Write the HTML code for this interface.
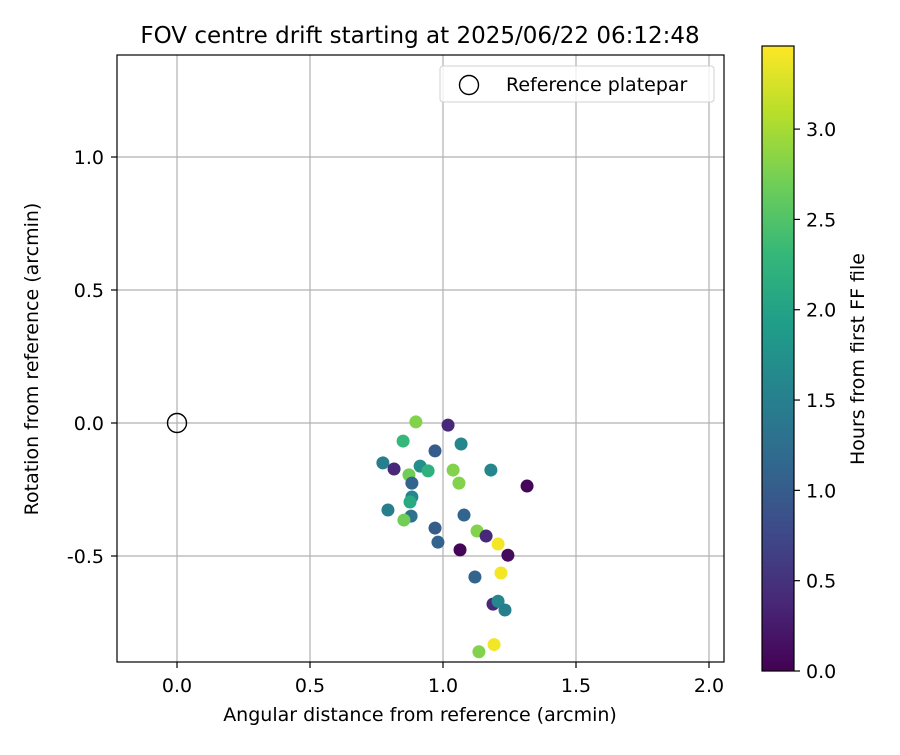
<!DOCTYPE html>
<html><head><meta charset="utf-8"><style>
body{margin:0;background:#fff;}
svg text{font-family:"DejaVu Sans","Liberation Sans",sans-serif;fill:#000;}
</style></head><body>
<svg id="chart" width="900" height="750" xmlns="http://www.w3.org/2000/svg">
<defs><linearGradient id="vir" x1="0" y1="1" x2="0" y2="0"></linearGradient></defs>
<g id="grid"></g><g id="pts"></g><g id="axes"></g>
</svg>
<script>
const xs=[0.898,1.019,0.850,1.068,0.970,0.774,0.816,0.914,0.944,1.038,1.180,0.872,0.883,1.060,1.316,0.883,0.876,0.793,0.880,0.853,1.079,0.970,0.981,1.128,1.162,1.207,1.064,1.244,1.120,1.218,1.188,1.207,1.233,1.192,1.135];
const ys=[0.004,-0.008,-0.068,-0.079,-0.105,-0.150,-0.173,-0.162,-0.180,-0.177,-0.177,-0.195,-0.226,-0.226,-0.237,-0.278,-0.297,-0.327,-0.350,-0.365,-0.346,-0.395,-0.448,-0.406,-0.425,-0.455,-0.477,-0.497,-0.579,-0.564,-0.681,-0.670,-0.703,-0.833,-0.860];
const hours=[2.8,0.4,2.3,1.6,1.0,1.5,0.4,1.7,2.2,2.8,1.6,2.7,1.1,2.8,0.05,1.6,2.1,1.5,1.3,2.7,1.1,1.0,1.1,2.8,0.4,3.4,0.05,0.1,1.1,3.4,0.4,1.6,1.5,3.4,2.8];
const xTicks=[0.0,0.5,1.0,1.5,2.0];
const yTicks=[-0.5,0.0,0.5,1.0];
const cTicks=[0.0,0.5,1.0,1.5,2.0,2.5,3.0];
const hMax=3.46;
const NS='http://www.w3.org/2000/svg';
const L=117,R=724,T=55,B=662;
const X=v=>177+v*266, Y=v=>423-v*266;
const CB={x:762,w:32,top:46,bot:671};
const C=v=>CB.bot-(v/hMax)*(CB.bot-CB.top);
const vstops=[[68,1,84],[72,40,120],[62,74,137],[49,104,142],[38,130,142],[31,158,137],[53,183,121],[110,206,88],[181,222,43],[253,231,37]];
function vir(t){t=Math.max(0,Math.min(1,t));const p=t*(vstops.length-1),i=Math.min(Math.floor(p),vstops.length-2),f=p-i;
const c=vstops[i].map((a,k)=>Math.round(a+(vstops[i+1][k]-a)*f));return `rgb(${c})`;}
function el(tag,attrs,parent,text){const e=document.createElementNS(NS,tag);for(const k in attrs)e.setAttribute(k,attrs[k]);if(text!==undefined)e.textContent=text;parent.appendChild(e);return e;}
const grid=document.getElementById('grid'),pts=document.getElementById('pts'),axes=document.getElementById('axes');
const grad=document.getElementById('vir');
vstops.forEach((s,i)=>{el('stop',{offset:i/(vstops.length-1),'stop-color':`rgb(${s})`},grad);});
xTicks.forEach(v=>{
 const g=el('line',{x1:X(v),x2:X(v),y1:T,y2:B,stroke:'#b0b0b0','stroke-width':1.2},grid);
 
 
 el('line',{x1:X(v),x2:X(v),y1:B,y2:B+6,stroke:'#000','stroke-width':1.2},axes);
 const t=el('text',{x:X(v),y:B+30,'text-anchor':'middle','font-size':19},axes,v.toFixed(1));
 
 
});
yTicks.forEach(v=>{
 const g=el('line',{x1:L,x2:R,y1:Y(v),y2:Y(v),stroke:'#b0b0b0','stroke-width':1.2},grid);
 
 
 el('line',{x1:L-6,x2:L,y1:Y(v),y2:Y(v),stroke:'#000','stroke-width':1.2},axes);
 const t=el('text',{x:L-13,y:Y(v)+7,'text-anchor':'end','font-size':19},axes,v.toFixed(1));
 
 
});
xs.forEach((x,i)=>{
 const c=el('circle',{cx:X(x),cy:Y(ys[i]),r:6.5,fill:vir(hours[i]/hMax)},pts);
 
 
});
const ref=el('circle',{cx:X(0),cy:Y(0),r:9.5,fill:'none',stroke:'#000','stroke-width':1.4},pts);


const frame=el('rect',{x:L,y:T,width:R-L,height:B-T,fill:'none',stroke:'#000','stroke-width':1.2},axes);


const lg=el('g',{},axes);


el('rect',{x:440,y:66,width:274,height:36,rx:3,fill:'#fff','fill-opacity':0.8,stroke:'#d0d0d0'},lg);
el('circle',{cx:469,cy:85,r:9.5,fill:'none',stroke:'#000','stroke-width':1.4},lg);
el('text',{x:506,y:91,'font-size':19},lg,'Reference platepar');
const ti=el('text',{x:420,y:43,'text-anchor':'middle','font-size':23},axes,'FOV centre drift starting at 2025/06/22 06:12:48');

const xt=el('text',{x:420,y:721,'text-anchor':'middle','font-size':19},axes,'Angular distance from reference (arcmin)');

const yt=el('text',{x:38,y:359,'text-anchor':'middle','font-size':19,transform:'rotate(-90 38 359)'},axes,'Rotation from reference (arcmin)');

const cb=el('rect',{x:CB.x,y:CB.top,width:CB.w,height:CB.bot-CB.top,fill:'url(#vir)',stroke:'#000','stroke-width':1.2},axes);

cTicks.forEach(v=>{
 el('line',{x1:CB.x+CB.w,x2:CB.x+CB.w+6,y1:C(v),y2:C(v),stroke:'#000','stroke-width':1.2},axes);
 const t=el('text',{x:CB.x+CB.w+12,y:C(v)+7,'font-size':19},axes,v.toFixed(1));
 
 
});
const ct=el('text',{x:864,y:359,'text-anchor':'middle','font-size':19,transform:'rotate(-90 864 359)'},axes,'Hours from first FF file');

</script>
</body></html>
